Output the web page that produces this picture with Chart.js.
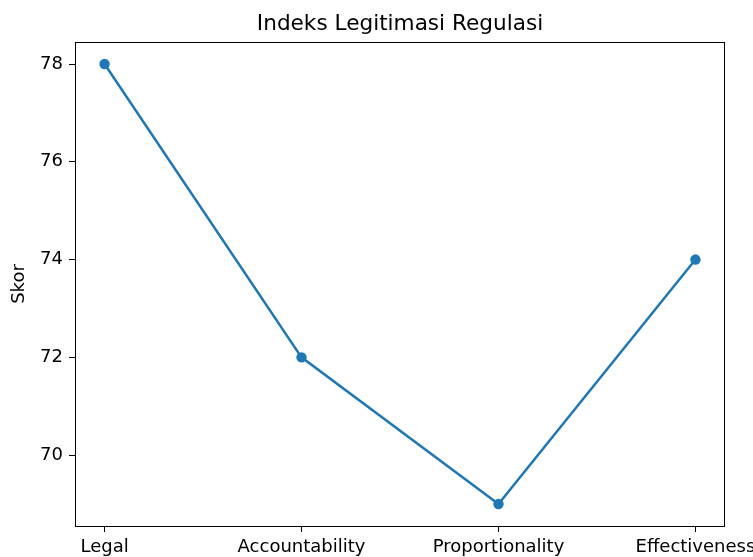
<!DOCTYPE html>
<html>
<head>
<meta charset="utf-8">
<script src="https://cdn.jsdelivr.net/npm/chart.js@4.4.1/dist/chart.umd.min.js"></script>
<style>
  html, body { margin: 0; padding: 0; background: #fff; }
  #wrap { width: 753px; height: 557px; }
</style>
</head>
<body>
<div id="wrap"><canvas id="myChart" width="753" height="557"></canvas></div>
<script>
const categories = ["Legal", "Accountability", "Proportionality", "Effectiveness"];
const scores = [78, 72, 69, 74];
const yTicks = [70, 72, 74, 76, 78];
const chartTitle = "Indeks Legitimasi Regulasi";

const FONT = "'DejaVu Sans', sans-serif";
const BLUE = "#1f77b4";

// matplotlib style box + title centred over the axes
const frame = {
  id: "frame",
  afterDraw(chart) {
    const { ctx, chartArea: a } = chart;
    ctx.save();
    ctx.strokeStyle = "#000";
    ctx.lineWidth = 1;
    ctx.strokeRect(a.left + 0.5, a.top + 0.5, a.right - a.left - 1, a.bottom - a.top);
    ctx.fillStyle = "#000";
    ctx.font = "21.6px " + FONT;
    ctx.textAlign = "center";
    ctx.textBaseline = "middle";
    ctx.fillText(chartTitle, (a.left + a.right) / 2, 24);
    ctx.restore();
  },
};

const ctx = document.getElementById("myChart");

new Chart(ctx, {
  type: "line",
  data: {
    datasets: [
      {
        label: "Skor",
        data: scores.map((v, i) => ({ x: i, y: v })),
        borderColor: BLUE,
        backgroundColor: BLUE,
        borderWidth: 2.5,
        pointRadius: 5.2,
        pointHoverRadius: 5.2,
        pointBorderWidth: 0,
        tension: 0,
      },
    ],
  },
  plugins: [frame],
  options: {
    responsive: false,
    animation: false,
    layout: { padding: { left: 0, right: 28, top: 42, bottom: 0 } },
    plugins: {
      legend: { display: false },
      tooltip: { enabled: false },
      title: { display: false },
    },
    scales: {
      x: {
        type: "linear",
        min: -0.15,
        max: 3.15,
        afterBuildTicks: (axis) => {
          axis.ticks = categories.map((c, i) => ({ value: i }));
        },
        afterFit: (axis) => {
          axis.height = 31;
          axis.paddingLeft = 0;
          axis.paddingRight = 0;
        },
        ticks: {
          color: "#000",
          font: { family: FONT, size: 18 },
          padding: 5,
          maxRotation: 0,
          autoSkip: false,
          callback: (v) => categories[v],
        },
        grid: { drawOnChartArea: false, drawTicks: true, tickLength: 6, color: "#000" },
        border: { display: false },
      },
      y: {
        min: 68.55,
        max: 78.45,
        afterBuildTicks: (axis) => {
          axis.ticks = yTicks.map((v) => ({ value: v }));
        },
        afterFit: (axis) => {
          axis.width = 75;
          axis.paddingTop = 0;
          axis.paddingBottom = 0;
        },
        ticks: {
          color: "#000",
          font: { family: FONT, size: 18 },
          padding: 6,
        },
        title: {
          display: true,
          text: "Skor",
          color: "#000",
          font: { family: FONT, size: 18 },
          padding: { top: 9, bottom: 4 },
        },
        grid: { drawOnChartArea: false, drawTicks: true, tickLength: 6, color: "#000" },
        border: { display: false },
      },
    },
  },
});
</script>
</body>
</html>
